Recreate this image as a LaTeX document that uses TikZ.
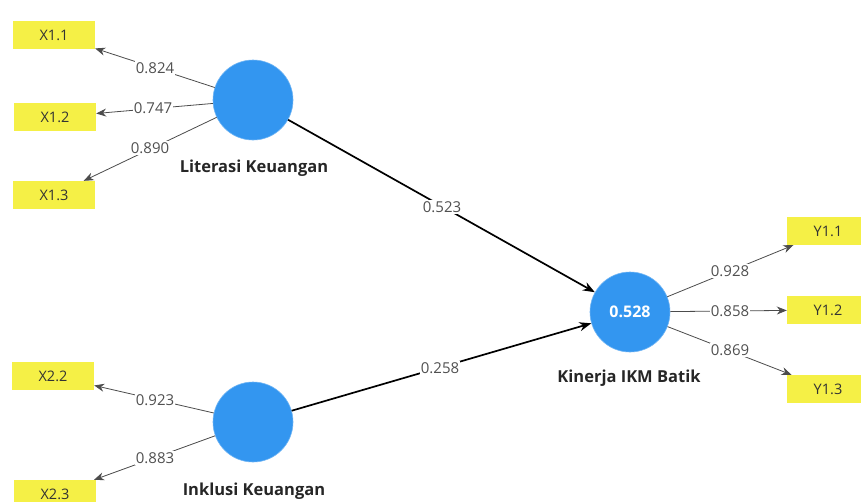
\documentclass[tikz,border=0pt]{standalone}
\usepackage{fontspec}
\setmainfont{Open Sans}
\usetikzlibrary{arrows.meta}
\definecolor{lvblue}{RGB}{51,150,240}
\definecolor{indyellow}{RGB}{245,240,70}
\definecolor{lblgrey}{RGB}{80,80,80}
\tikzset{
  lv/.style={circle, fill=lvblue, draw=lvblue!70!white, line width=0.6pt, minimum size=80pt, inner sep=0pt},
  ind/.style={rectangle, fill=indyellow, minimum width=82pt, minimum height=28pt, inner sep=0pt, font=\fontsize{14.5}{16}\selectfont, text=black!80},
  lvname/.style={font=\bfseries\fontsize{16.5}{18}\selectfont, text=black!85},
  loadarrow/.style={draw=black!70, line width=0.8pt, -{Stealth[length=10pt,width=8pt]}},
  patharrow/.style={draw=black, line width=1.7pt, -{Stealth[length=12pt,width=9pt]}},
  lbl/.style={fill=white, inner sep=1pt, text=lblgrey, font=\fontsize{15}{17}\selectfont}
}
\begin{document}
\begin{tikzpicture}[x=1pt,y=-1pt]
\useasboundingbox (0,0) rectangle (861,501);
\fill[white] (0,0) rectangle (861,501);
\begin{scope}
\clip (0,0) rectangle (861,501);
% indicators
\node[ind] (x11) at (54,35) {X1.1};
\node[ind] (x12) at (55,117) {X1.2};
\node[ind] (x13) at (54,195) {X1.3};
\node[ind] (x22) at (53,376) {X2.2};
\node[ind] (x23) at (55,494) {X2.3};
\node[ind] (y11) at (828,231) {Y1.1};
\node[ind] (y12) at (828,310) {Y1.2};
\node[ind] (y13) at (828,389) {Y1.3};
% latent variables
\node[lv] (lit) at (253,100) {};
\node[lv] (ink) at (253,422) {};
\node[lv, text=white, font=\bfseries\fontsize{16}{18}\selectfont] (kin) at (630,312) {0.528};
\node[lvname] (litname) at (254,168) {Literasi Keuangan};
\node[lvname] (inkname) at (254,491) {Inklusi Keuangan};
\node[lvname] (kinname) at (629,378) {Kinerja IKM Batik};
% outer loadings
\draw[loadarrow] (lit) -- (x11);
\draw[loadarrow] (lit) -- (x12);
\draw[loadarrow] (lit) -- (x13);
\draw[loadarrow] (ink) -- (x22);
\draw[loadarrow] (ink) -- (x23);
\draw[loadarrow] (kin) -- (y11);
\draw[loadarrow] (kin) -- (y12);
\draw[loadarrow] (kin) -- (y13);
% paths
\draw[patharrow] (lit) -- (kin);
\draw[patharrow] (ink) -- (kin);
% labels
\node[lbl] (l1) at (155,68) {0.824};
\node[lbl] (l2) at (153,108) {0.747};
\node[lbl] (l3) at (150,148) {0.890};
\node[lbl] (l4) at (155,400) {0.923};
\node[lbl] (l5) at (155,458) {0.883};
\node[lbl] (l6) at (442,207) {0.523};
\node[lbl] (l7) at (440,368) {0.258};
\node[lbl] (l8) at (730,271) {0.928};
\node[lbl] (l9) at (730,311) {0.858};
\node[lbl] (l10) at (730,350) {0.869};
\end{scope}
\end{tikzpicture}
\end{document}
